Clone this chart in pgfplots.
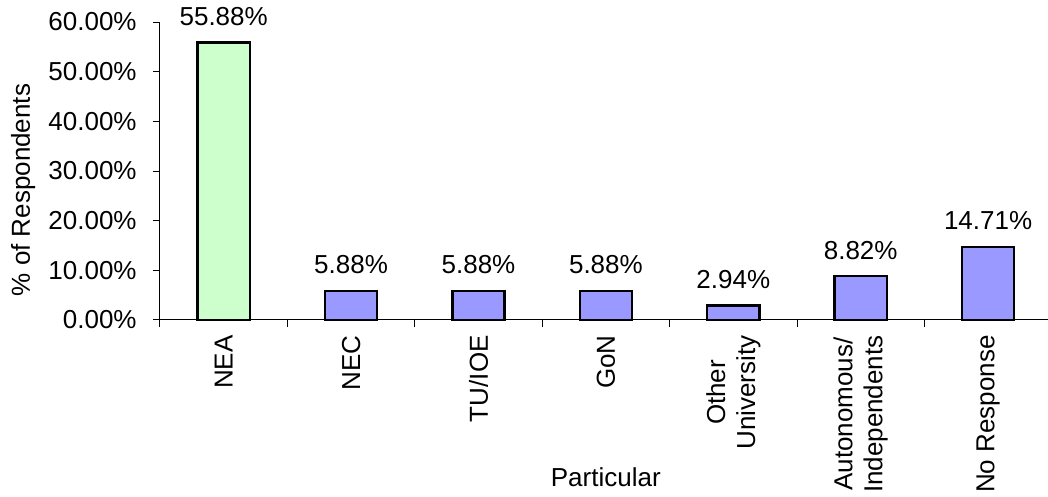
\documentclass[border=0pt]{standalone}
\usepackage{pgfplots}
\pgfplotsset{compat=1.18}
\usepackage{fontspec}
\setmainfont{Liberation Sans}
\definecolor{barblue}{HTML}{9999FF}
\definecolor{bargreen}{HTML}{CCFFCC}
\begin{document}
\begin{tikzpicture}[font=\fontsize{13}{15}\selectfont]
\begin{axis}[
  at={(0,0)}, anchor=south west,
  scale only axis, width=444pt, height=149pt,
  xmin=-0.5, xmax=6.47, ymin=0, ymax=60,
  axis lines=left,
  axis line style={-, line width=0.5pt, black},
  tick align=outside,
  ytick={0,10,20,30,40,50,60},
  yticklabel={\pgfmathprintnumber[fixed,fixed zerofill,precision=2]{\tick}\%},
  /pgf/number format/assume math mode=true,
  yticklabel style={anchor=east, inner sep=0pt, xshift=-8pt},
  major tick length=3.5pt,
  minor tick length=3.5pt,
  tick style={black, line width=0.5pt},
  xtick={0,1,2,3,4,5,6},
  xticklabels={NEA, NEC, TU/IOE, GoN, {Other\\University}, {Autonomous/\\Independents}, No Response},
  x tick style={draw=none},
  minor xtick={-0.5,0.5,1.5,2.5,3.5,4.5,5.5},
  minor x tick style={draw=black, line width=0.5pt},
  xticklabel style={yshift=-4pt, rotate=90, anchor=east, align=center, inner sep=0pt},
  ylabel={\% of Respondents},
  ylabel style={at={(axis description cs:-0.154,0.436)}, anchor=center, rotate=0},
  xlabel={Particular},
  xlabel style={at={(axis description cs:0.502,-0.560)}, anchor=base},
  bar width=0.41,
  nodes near coords={\pgfmathprintnumber[fixed,fixed zerofill,precision=2]{\pgfplotspointmeta}\%},
  every node near coord/.append style={anchor=base, yshift=8.5pt, inner sep=0pt, black},
  clip=false,
]
\addplot[ybar, bar shift=0pt, fill=bargreen, draw=black, line width=1.2pt] coordinates {(0,55.88)};
\addplot[ybar, bar shift=0pt, fill=barblue, draw=black, line width=1.2pt] coordinates {(1,5.88) (2,5.88) (3,5.88) (4,2.94) (5,8.82) (6,14.71)};
\end{axis}
\pgfresetboundingbox
\path[use as bounding box] (-80pt,-88.5pt) rectangle (444pt,160pt);
\end{tikzpicture}
\end{document}
